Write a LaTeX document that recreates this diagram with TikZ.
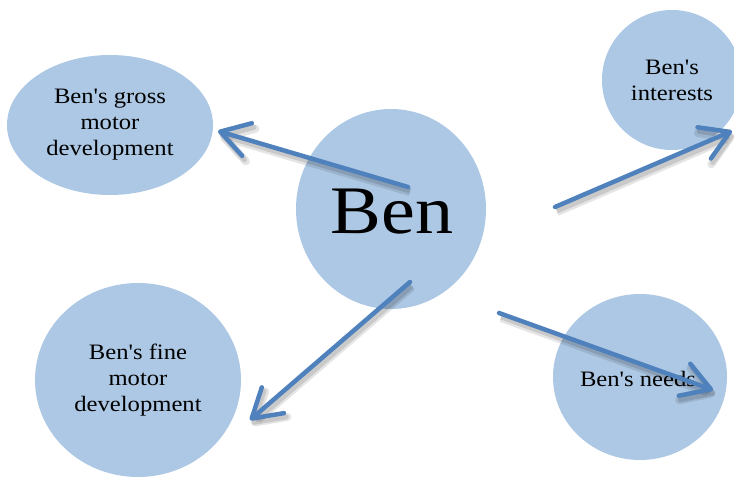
\documentclass[tikz,border=0pt]{standalone}
\usepackage{fontspec}
\setmainfont{Liberation Serif}[FakeStretch=1.12,Ligatures=TeXOff]
\usetikzlibrary{arrows.meta,shapes.geometric}
\definecolor{bubble}{HTML}{ADC8E4}
\definecolor{arrowblue}{HTML}{4F81BD}
\tikzset{
  bubble/.style={ellipse, fill=bubble, draw=none, inner sep=0pt, align=center, font=\fontsize{22}{26}\selectfont},
  link/.style={draw=arrowblue, line width=4.5pt, line cap=round,
    -{Straight Barb[length=28pt,width=34pt,line cap=round,line join=round]},
    preaction={draw=black, opacity=0.10, line width=8pt, transform canvas={shift={(2pt,-5pt)}}},
    preaction={draw=black, opacity=0.12, line width=5pt, transform canvas={shift={(2pt,-4pt)}}}}
}
\begin{document}
\begin{tikzpicture}[x=1pt,y=-1pt]
\useasboundingbox (0,0) rectangle (734,478);
\node[bubble, minimum width=190pt, minimum height=200pt] (ben) at (391,209) {};
\node[font=\fontsize{68}{70}\selectfont] (bentext) at (392,212) {Ben};
\node[bubble, minimum width=206pt, minimum height=140pt] (gross) at (110,125) {Ben's gross\\motor\\development};
\node[bubble, minimum width=140pt, minimum height=140pt] (interests) at (672,80) {Ben's\\interests};
\node[bubble, minimum width=174pt, minimum height=166pt] (needs) at (640,377) {};
\node[font=\fontsize{22}{26}\selectfont] (needstext) at (638,379) {Ben's needs};
\node[bubble, minimum width=206pt, minimum height=194pt] (fine) at (138,380) {Ben's fine\\motor\\development};
\coordinate (s1) at (408,187);
\coordinate (e1) at (218,131);
\coordinate (s2) at (410,282);
\coordinate (e2) at (250,420);
\coordinate (s3) at (555,207);
\coordinate (e3) at (732,131);
\coordinate (s4) at (499,313);
\coordinate (e4) at (713,390);
\draw[link] (s1) -- (e1);
\draw[link] (s2) -- (e2);
\draw[link] (s3) -- (e3);
\draw[link] (s4) -- (e4);
\end{tikzpicture}
\end{document}
